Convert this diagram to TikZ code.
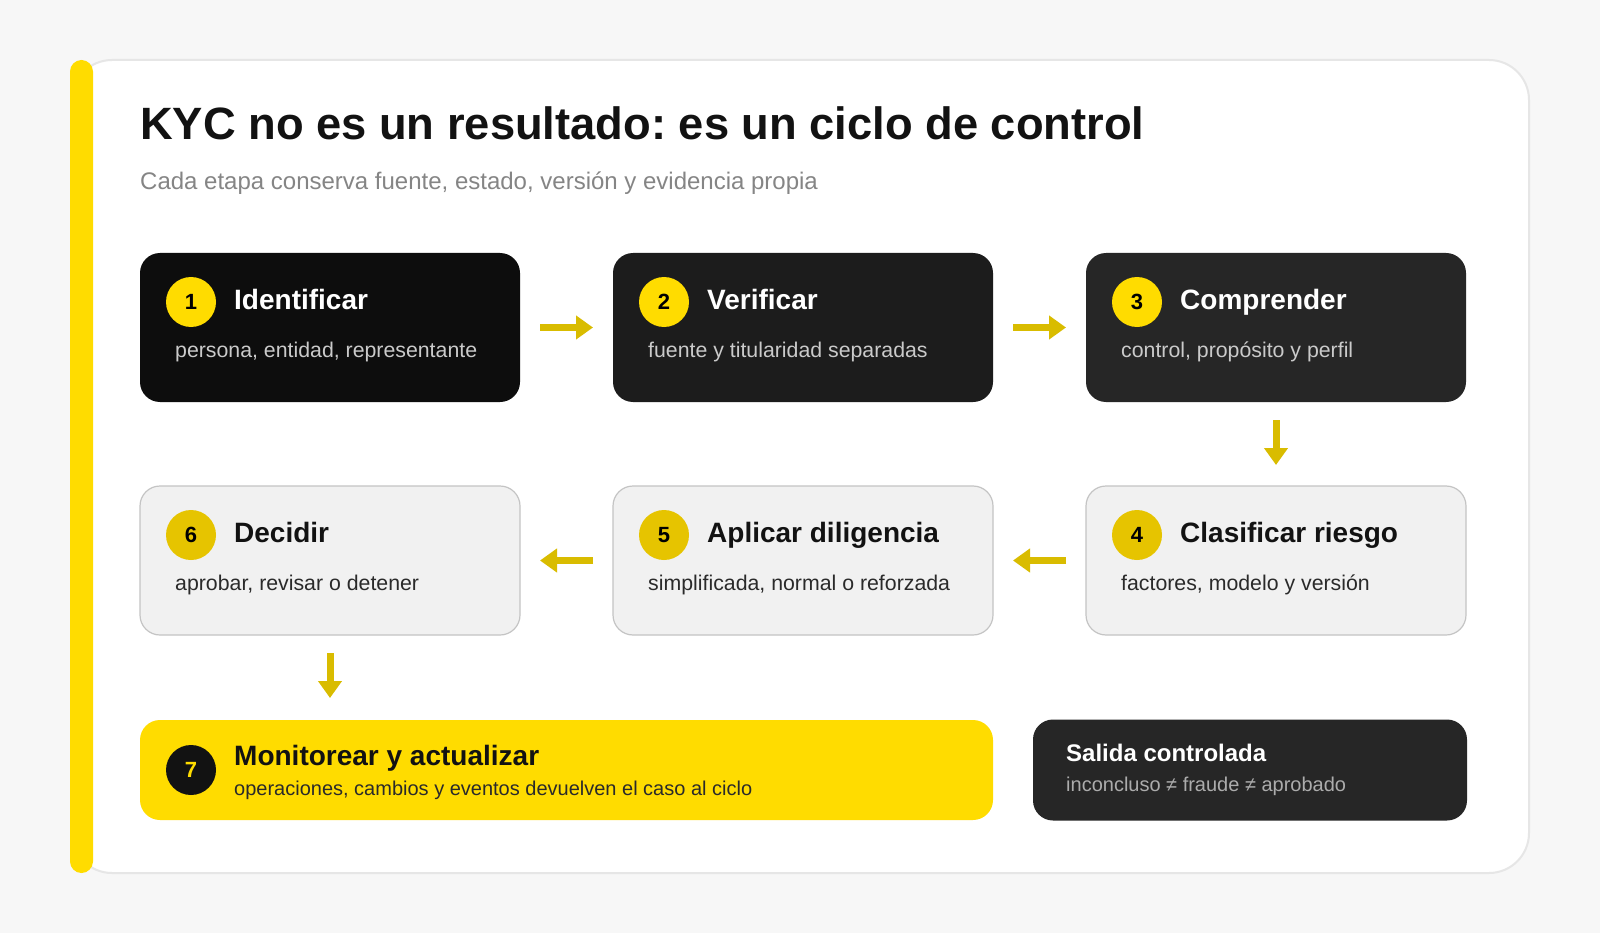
\documentclass[tikz,border=0pt]{standalone}
\usepackage{fontspec}
\setmainfont{Liberation Sans}
\usetikzlibrary{arrows.meta,positioning}
\frenchspacing
\definecolor{pagebg}{HTML}{F7F7F7}
\definecolor{cardline}{HTML}{E6E6E6}
\definecolor{kycyellow}{HTML}{FFDC00}
\definecolor{numyellow}{HTML}{E6C400}
\definecolor{flowyellow}{HTML}{D9BC00}
\definecolor{lightfill}{HTML}{F1F1F1}
\definecolor{lightline}{HTML}{C4C4C4}
\definecolor{subgray}{HTML}{CACACA}
\definecolor{subdark}{HTML}{2A2A2A}
\definecolor{leadgray}{HTML}{858585}

\begin{document}
\begin{tikzpicture}[x=1pt,y=-1pt,line join=round,
  box/.style={rectangle,rounded corners=20pt,minimum width=380pt,minimum height=149pt,inner sep=0pt,outer sep=0pt},
  darkbox/.style={box,fill=#1},
  lightbox/.style={box,fill=lightfill,draw=lightline,line width=1.2pt},
  num/.style={circle,minimum size=50pt,inner sep=0pt,font=\bfseries\fontsize{22}{22}\selectfont},
  ttl/.style={anchor=base west,inner sep=0pt,font=\bfseries\fontsize{28}{28}\selectfont},
  sub/.style={anchor=base west,inner sep=0pt,font=\fontsize{21.3}{21.3}\selectfont},
  flow/.style={-{Triangle[length=17pt,width=23pt]},line width=7pt,draw=flowyellow,shorten <=20pt,shorten >=20pt}]
% page and card
\fill[pagebg] (0,0) rectangle (1600,933);
\useasboundingbox (0,0) rectangle (1600,933);
\draw[fill=white,draw=cardline,line width=2pt,rounded corners=40pt] (72,60) rectangle (1529,873);
\fill[kycyellow,rounded corners=11.5pt] (70,60) rectangle (93,873);
\node[anchor=base west,inner sep=0pt,font=\bfseries\fontsize{45.3}{45.3}\selectfont,text=black!93] (title) at (140,140) {KYC no es un resultado: es un ciclo de control};
\node[anchor=base west,inner sep=0pt,font=\fontsize{24}{24}\selectfont,text=leadgray] (lead) at (140,190) {Cada etapa conserva fuente, estado, versión y evidencia propia};
% row 1
\node[darkbox=black!95,anchor=north west] (b1) at (140,253) {};
\node[darkbox=black!89,right=93pt of b1] (b2) {};
\node[darkbox=black!85,right=93pt of b2] (b3) {};
% row 2
\node[lightbox,below=84pt of b3] (b4) {};
\node[lightbox,left=93pt of b4] (b5) {};
\node[lightbox,left=93pt of b5] (b6) {};
% row 3
\node[box,fill=kycyellow,minimum width=853pt,minimum height=100pt,below=85pt of b6.south west,anchor=north west] (b7) {};
\node[box,fill=black!85,minimum width=434pt,minimum height=101pt,right=40pt of b7] (out) {};
% numbers and texts
\node[num,fill=kycyellow] (n1) at ([shift={(51,49)}]b1.north west) {1};
\node[ttl,text=white] (t1) at ([shift={(94,56)}]b1.north west) {Identificar};
\node[sub,text=subgray] (s1) at ([shift={(35,104)}]b1.north west) {persona, entidad, representante};
\node[num,fill=kycyellow] (n2) at ([shift={(51,49)}]b2.north west) {2};
\node[ttl,text=white] (t2) at ([shift={(94,56)}]b2.north west) {Verificar};
\node[sub,text=subgray] (s2) at ([shift={(35,104)}]b2.north west) {fuente y titularidad separadas};
\node[num,fill=kycyellow] (n3) at ([shift={(51,49)}]b3.north west) {3};
\node[ttl,text=white] (t3) at ([shift={(94,56)}]b3.north west) {Comprender};
\node[sub,text=subgray] (s3) at ([shift={(35,104)}]b3.north west) {control, propósito y perfil};
\node[num,fill=numyellow] (n4) at ([shift={(51,49)}]b4.north west) {4};
\node[ttl,text=black!93] (t4) at ([shift={(94,56)}]b4.north west) {Clasificar riesgo};
\node[sub,text=subdark] (s4) at ([shift={(35,104)}]b4.north west) {factores, modelo y versión};
\node[num,fill=numyellow] (n5) at ([shift={(51,49)}]b5.north west) {5};
\node[ttl,text=black!93] (t5) at ([shift={(94,56)}]b5.north west) {Aplicar diligencia};
\node[sub,text=subdark] (s5) at ([shift={(35,104)}]b5.north west) {simplificada, normal o reforzada};
\node[num,fill=numyellow] (n6) at ([shift={(51,49)}]b6.north west) {6};
\node[ttl,text=black!93] (t6) at ([shift={(94,56)}]b6.north west) {Decidir};
\node[sub,text=subdark] (s6) at ([shift={(35,104)}]b6.north west) {aprobar, revisar o detener};
\node[num,fill=black!93,text=kycyellow] (n7) at ([shift={(51,50)}]b7.north west) {7};
\node[ttl,text=black!93] (t7) at ([shift={(94,45)}]b7.north west) {Monitorear y actualizar};
\node[sub,text=subdark,font=\fontsize{20}{20}\selectfont] (s7) at ([shift={(94,75)}]b7.north west) {operaciones, cambios y eventos devuelven el caso al ciclo};
\node[anchor=base west,inner sep=0pt,text=white,font=\bfseries\fontsize{24}{24}\selectfont] (tout) at ([shift={(33,42)}]out.north west) {Salida controlada};
\node[sub,text=subgray!85!black,font=\fontsize{20}{20}\selectfont] (sout) at ([shift={(33,72)}]out.north west) {inconcluso ≠ fraude ≠ aprobado};
% connectors
\draw[flow] (b1) -- (b2);
\draw[flow] (b2) -- (b3);
\draw[flow,shorten <=18pt,shorten >=21pt] (b3) -- (b4);
\draw[flow] (b4) -- (b5);
\draw[flow] (b5) -- (b6);
\draw[flow,shorten <=18pt,shorten >=22pt] (b6.south) -- (b6.south |- b7.north);
\end{tikzpicture}
\end{document}
